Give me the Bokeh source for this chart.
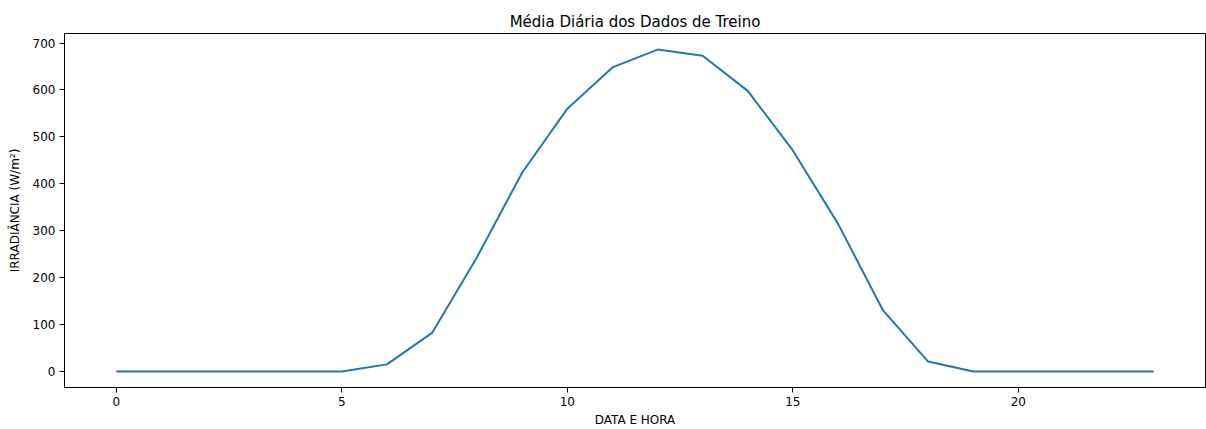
from bokeh.plotting import figure
from bokeh.models import Range1d, FixedTicker
from bokeh.embed import file_html
from bokeh.resources import INLINE

hours = list(range(24))
irradiance = [0, 0, 0, 0, 0, 0, 15, 82, 244, 424, 560, 648, 686, 673, 598, 471, 315, 130, 21, 0, 0, 0, 0, 0]
x_ticks = [0, 5, 10, 15, 20]
y_ticks = [0, 100, 200, 300, 400, 500, 600, 700]

FONT = "DejaVu Sans"

p = figure(width=1206, height=429, output_backend="svg", toolbar_location=None,
           x_range=Range1d(-1.15, 24.15), y_range=Range1d(-34.3, 720.3),
           title="Média Diária dos Dados de Treino")
p.min_border_left = 64
p.min_border_right = 1
p.min_border_top = 33
p.min_border_bottom = 42

p.line(hours, irradiance, line_color="#1f77b4", line_width=2)

p.title.align = "center"
p.title.text_font = FONT
p.title.text_font_size = "15px"
p.title.text_font_style = "normal"
p.title.text_color = "#000000"
p.title.standoff = 5

p.xgrid.visible = False
p.ygrid.visible = False
p.outline_line_color = "#000000"
p.outline_line_width = 1
p.background_fill_color = "white"
p.border_fill_color = "white"

for ax in (p.xaxis[0], p.yaxis[0]):
    ax.axis_line_color = "#000000"
    ax.major_tick_line_color = "#000000"
    ax.major_tick_out = 5
    ax.major_tick_in = 0
    ax.minor_tick_line_color = None
    ax.major_label_text_font = FONT
    ax.major_label_text_font_size = "12px"
    ax.major_label_text_color = "#000000"
    ax.axis_label_text_font = FONT
    ax.axis_label_text_font_size = "12px"
    ax.axis_label_text_font_style = "normal"
    ax.axis_label_text_color = "#000000"

p.xaxis.ticker = FixedTicker(ticks=x_ticks)
p.yaxis.ticker = FixedTicker(ticks=y_ticks)
p.xaxis.axis_label = "DATA E HORA"
p.yaxis.axis_label = "IRRADIÂNCIA (W/m²)"
p.xaxis.major_label_standoff = 4
p.xaxis.axis_label_standoff = 4
p.yaxis.major_label_standoff = 4
p.yaxis.axis_label_standoff = 8

open("out.html", "w").write(file_html(p, INLINE))
